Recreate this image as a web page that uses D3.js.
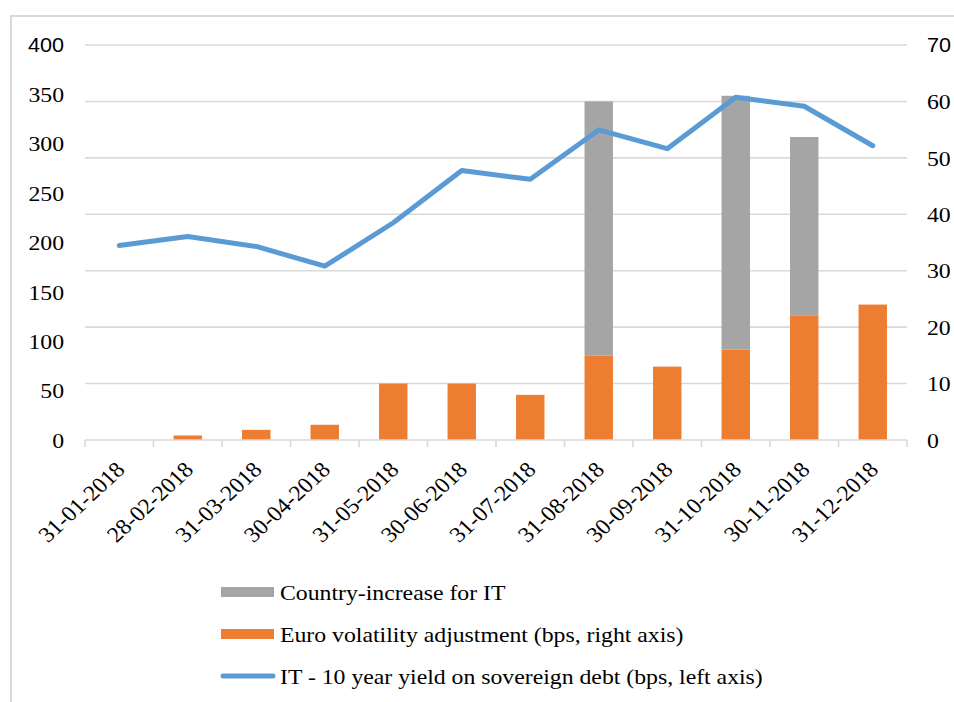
<!DOCTYPE html>
<html>
<head>
<meta charset="utf-8">
<script src="https://cdn.jsdelivr.net/npm/d3@7"></script>
<style>
  body { margin: 0; background: #fff; }
  svg { display: block; }
</style>
</head>
<body>
<svg id="chart" width="954" height="702"></svg>
<script>
// data
const dates = ["31-01-2018", "28-02-2018", "31-03-2018", "30-04-2018", "31-05-2018", "30-06-2018",
  "31-07-2018", "31-08-2018", "30-09-2018", "31-10-2018", "30-11-2018", "31-12-2018"];
const volAdj = [0, 0.8, 1.8, 2.7, 10, 10, 8, 15, 13, 16, 22, 24];
const countryInc = [0, 0, 0, 0, 0, 0, 0, 45, 0, 45, 31.7, 0];
const yield10y = [197, 206, 196, 176, 220, 273, 264, 314, 295, 347, 338, 298];
const leftTicks = [0, 50, 100, 150, 200, 250, 300, 350, 400];
const rightTicks = [0, 10, 20, 30, 40, 50, 60, 70];
const legendItems = [
  {label: "Country-increase for IT", color: "#a5a5a5", type: "rect"},
  {label: "Euro volatility adjustment (bps, right axis)", color: "#ed7d31", type: "rect"},
  {label: "IT - 10 year yield on sovereign debt (bps, left axis)", color: "#5b9bd5", type: "line"}
];

const serif = "'Liberation Serif', 'Times New Roman', 'DejaVu Serif', serif";
const sans = "'Liberation Sans', Arial, sans-serif";
const svg = d3.select("#chart").attr("font-family", serif);
const grid = "#d9d9d9";
const stretch = "scale(1.08,1)";

// frame
svg.append("rect")
  .attr("x", 11).attr("y", 16)
  .attr("width", 980).attr("height", 720)
  .attr("fill", "none").attr("stroke", grid).attr("stroke-width", 2);

const x = d3.scaleBand().domain(dates).range([85, 907]).padding(0);
const yL = d3.scaleLinear().domain([0, 400]).range([440, 45]);
const yR = d3.scaleLinear().domain([0, 70]).range([440, 45]);

// gridlines follow the right axis
svg.append("g").selectAll("line").data(rightTicks.filter(d => d > 0)).join("line")
  .attr("x1", 85).attr("x2", 907)
  .attr("y1", d => yR(d)).attr("y2", d => yR(d))
  .attr("stroke", grid).attr("stroke-width", 1.6);

// bars
const bw = x.bandwidth() * 0.415;
const cx = d => x(d) + x.bandwidth() / 2;
svg.append("g").selectAll("rect").data(dates).join("rect")
  .attr("x", d => cx(d) - bw / 2)
  .attr("width", bw)
  .attr("y", (d, i) => yR(volAdj[i]))
  .attr("height", (d, i) => yR(0) - yR(volAdj[i]))
  .attr("fill", "#ed7d31");
svg.append("g").selectAll("rect").data(dates).join("rect")
  .attr("x", d => cx(d) - bw / 2)
  .attr("width", bw)
  .attr("y", (d, i) => yR(volAdj[i] + countryInc[i]))
  .attr("height", (d, i) => yR(volAdj[i]) - yR(volAdj[i] + countryInc[i]))
  .attr("fill", "#a5a5a5");

// x axis line + ticks
svg.append("line").attr("x1", 85).attr("x2", 907).attr("y1", 440).attr("y2", 440)
  .attr("stroke", grid).attr("stroke-width", 1.6);
svg.append("g").selectAll("line").data(d3.range(dates.length + 1)).join("line")
  .attr("x1", i => 85 + i * x.bandwidth()).attr("x2", i => 85 + i * x.bandwidth())
  .attr("y1", 440).attr("y2", 447)
  .attr("stroke", grid).attr("stroke-width", 1.6);

// line
const line = d3.line().x((d, i) => cx(dates[i])).y(d => yL(d));
svg.append("path").datum(yield10y)
  .attr("d", line)
  .attr("fill", "none").attr("stroke", "#5b9bd5")
  .attr("stroke-width", 5).attr("stroke-linejoin", "round").attr("stroke-linecap", "round");

// left axis labels
svg.append("g").selectAll("text").data(leftTicks).join("text")
  .attr("transform", d => `translate(64,${yL(d)}) ${stretch}`)
  .attr("dy", "0.35em")
  .attr("text-anchor", "end")
  .attr("font-size", d => d === 400 ? 20 : 22)
  .attr("font-family", d => d === 400 ? sans : serif)
  .text(d => d);

// right axis labels
svg.append("g").selectAll("text").data(rightTicks).join("text")
  .attr("transform", d => `translate(927,${yR(d)}) ${stretch}`)
  .attr("dy", "0.35em")
  .attr("font-size", d => d === 70 ? 20 : 22)
  .attr("font-family", d => d === 70 ? sans : serif)
  .text(d => d);

// date labels
svg.append("g").selectAll("text").data(dates).join("text")
  .attr("transform", d => `translate(${cx(d) + 7},471) ${stretch} rotate(-45)`)
  .attr("text-anchor", "end")
  .attr("font-size", 22)
  .text(d => d);

// legend
const lg = svg.append("g").selectAll("g").data(legendItems).join("g")
  .attr("transform", (d, i) => `translate(0,${592 + i * 42})`);
lg.filter(d => d.type === "rect").append("rect")
  .attr("x", 221).attr("y", -5).attr("width", 53).attr("height", 10)
  .attr("fill", d => d.color);
lg.filter(d => d.type === "line").append("line")
  .attr("x1", 223).attr("x2", 273).attr("y1", 0).attr("y2", 0)
  .attr("stroke", d => d.color).attr("stroke-width", 5).attr("stroke-linecap", "round");
lg.append("text")
  .attr("transform", `translate(280,0) ${stretch}`)
  .attr("dy", "0.35em")
  .attr("font-size", 22)
  .text(d => d.label);
</script>
</body>
</html>
